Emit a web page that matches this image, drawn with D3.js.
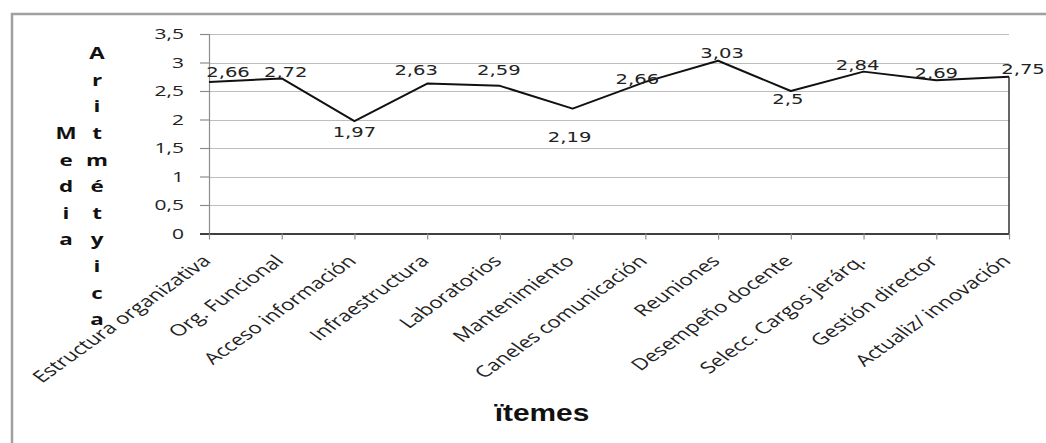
<!DOCTYPE html>
<html>
<head>
<meta charset="utf-8">
<script src="https://cdn.jsdelivr.net/npm/d3@7"></script>
<style>
  html, body { margin: 0; padding: 0; background: #fff; }
  svg { display: block; }
</style>
</head>
<body>
<svg id="chart" width="1046" height="443"></svg>
<script>
// Items evaluated and their arithmetic mean
const categories = [
  "Estructura organizativa", "Org. Funcional", "Acceso información", "Infraestructura",
  "Laboratorios", "Mantenimiento", "Caneles comunicación", "Reuniones",
  "Desempeño docente", "Selecc. Cargos jerárq.", "Gestión director", "Actualiz/ innovación"
];
const means = [2.66, 2.72, 1.97, 2.63, 2.59, 2.19, 2.66, 3.03, 2.5, 2.84, 2.69, 2.75];
const yTicks = [0, 0.5, 1, 1.5, 2, 2.5, 3, 3.5];
const yTitleLeft = "Media";
const yTitleRight = "Aritmétyica";
const xTitle = "ïtemes";

// Label placement relative to each point (dx, dy of label centre)
const labelOffsets = [
  [19, -10], [4, -7], [0, 11], [-11, -14], [-1, -16], [-3, 28],
  [-8, -3], [4, -8], [-3, 8], [-6, -7], [0, -7], [14, -8]
];

const SX = 1.4; // horizontal stretch applied to all text
const fmt = v => String(v).replace(".", ",");

const svg = d3.select("#chart");

// outer chart frame (open on the right and bottom)
svg.append("path")
  .attr("d", "M12,443 L12,14 L1046,14")
  .attr("fill", "none").attr("stroke", "#a0a0a0").attr("stroke-width", 2.5);

const x = d3.scalePoint().domain(categories).range([209, 1009]);
const y = d3.scaleLinear().domain([0, 3.5]).range([233.5, 34]);

// horizontal gridlines
svg.append("g").selectAll("line")
  .data(yTicks.filter(t => t > 0))
  .join("line")
  .attr("x1", 209).attr("x2", 1009)
  .attr("y1", d => Math.round(y(d)) + 0.5).attr("y2", d => Math.round(y(d)) + 0.5)
  .attr("stroke", "#bdbdbd").attr("stroke-width", 1.2);

// y axis (line + ticks)
const yAxis = svg.append("g")
  .attr("transform", "translate(209,0)")
  .call(d3.axisLeft(y).tickValues(yTicks).tickSize(9).tickFormat(""));
yAxis.select(".domain").attr("stroke", "#8c8c8c").attr("stroke-width", 1.2);
yAxis.selectAll(".tick line").attr("stroke", "#8c8c8c").attr("stroke-width", 1.2);

svg.append("g").selectAll("text")
  .data(yTicks)
  .join("text")
  .attr("transform", d => `translate(184,${y(d)}) scale(${SX},1)`)
  .attr("dy", "0.35em")
  .attr("text-anchor", "end")
  .attr("font-family", "Open Sans, sans-serif")
  .attr("font-size", 15)
  .attr("fill", "#222")
  .text(fmt);

// x axis (line + ticks)
const xAxis = svg.append("g")
  .attr("transform", "translate(0,233.5)")
  .call(d3.axisBottom(x).tickSize(6).tickSizeOuter(0).tickFormat(""));
xAxis.select(".domain").attr("stroke", "#404040").attr("stroke-width", 2)
  .attr("d", "M200,0.5H1009");
xAxis.selectAll(".tick line").attr("stroke", "#8c8c8c").attr("stroke-width", 1.2);

// rotated category labels
svg.append("g").selectAll("text")
  .data(categories)
  .join("text")
  .attr("transform", d => `translate(${x(d) + 3},${262}) scale(${SX},1) rotate(-45)`)
  .attr("text-anchor", "end")
  .attr("font-family", "Open Sans, sans-serif")
  .attr("font-size", 16)
  .attr("fill", "#222")
  .text(d => d);

// right edge line from last point down to the axis
svg.append("line")
  .attr("x1", x(categories[categories.length - 1]))
  .attr("x2", x(categories[categories.length - 1]))
  .attr("y1", y(means[means.length - 1])).attr("y2", y(0))
  .attr("stroke", "#333").attr("stroke-width", 1.5);

// series line
const line = d3.line()
  .x((d, i) => x(categories[i]))
  .y(d => y(d));
svg.append("path")
  .datum(means)
  .attr("d", line)
  .attr("fill", "none")
  .attr("stroke", "#111")
  .attr("stroke-width", 2)
  .attr("stroke-linejoin", "round");

// data labels
svg.append("g").selectAll("text")
  .data(means)
  .join("text")
  .attr("transform", (d, i) =>
    `translate(${x(categories[i]) + labelOffsets[i][0]},${y(d) + labelOffsets[i][1]}) scale(${SX},1)`)
  .attr("dy", "0.36em")
  .attr("text-anchor", "middle")
  .attr("font-family", "DejaVu Sans, sans-serif")
  .attr("font-size", 14)
  .attr("fill", "#222")
  .text(fmt);

// stacked vertical y-axis titles
function stacked(word, cx) {
  const letters = Array.from(word);
  const step = 26.6, mid = 186.5;
  const top = mid - step * (letters.length - 1) / 2;
  svg.append("g").selectAll("text")
    .data(letters)
    .join("text")
    .attr("transform", (d, i) => `translate(${cx},${top + i * step}) scale(${SX},1)`)
    .attr("dy", "0.36em")
    .attr("text-anchor", "middle")
    .attr("font-family", "Open Sans, sans-serif")
    .attr("font-weight", "bold")
    .attr("font-size", 16)
    .attr("fill", "#111")
    .text(d => d);
}
stacked(yTitleLeft, 66);
stacked(yTitleRight, 97);

// x-axis title
svg.append("text")
  .attr("transform", `translate(542,421) scale(1.3,1)`)
  .attr("text-anchor", "middle")
  .attr("font-family", "Liberation Sans, Arial, sans-serif")
  .attr("font-weight", "bold")
  .attr("font-size", 23)
  .attr("fill", "#111")
  .text(xTitle);
</script>
</body>
</html>
